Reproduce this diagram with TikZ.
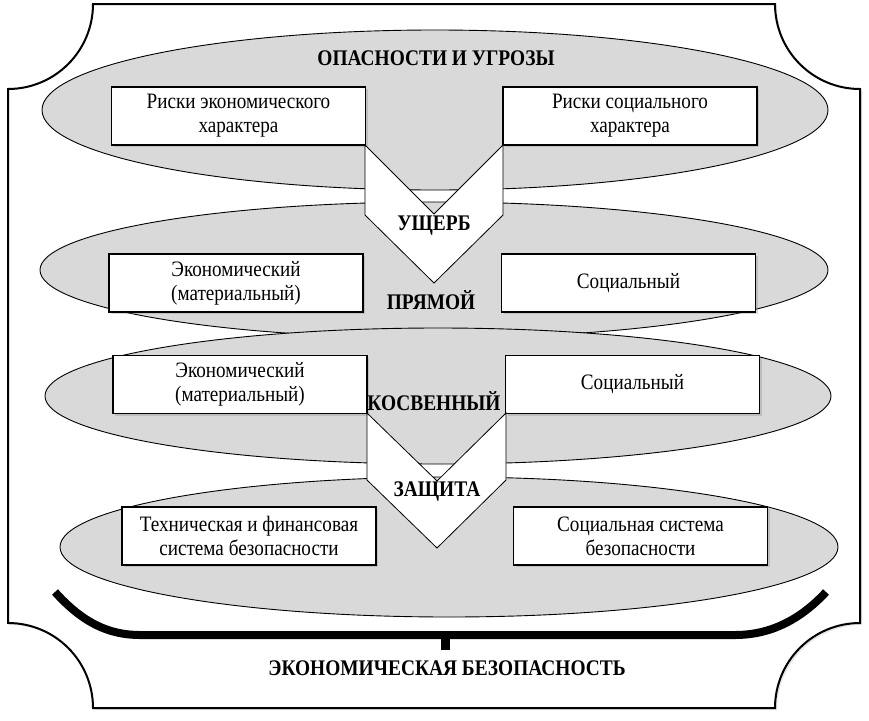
\documentclass[tikz,border=0pt]{standalone}
\usepackage{fontspec}
\setmainfont{Liberation Serif}[FakeStretch=0.87]
\usetikzlibrary{shapes.geometric,shadows}
\definecolor{ellgray}{RGB}{217,217,217}
\begin{document}
\begin{tikzpicture}[x=1pt,y=-1pt,
  oval/.style={ellipse,draw=black,fill=ellgray,line width=0.9pt,inner sep=0pt},
  riskbox/.style={draw=black,fill=white,line width=1.3pt,minimum width=254pt,minimum height=58pt,
    inner sep=0pt,align=center,font=\fontsize{22}{24}\selectfont,
    drop shadow={opacity=0.3,shadow xshift=2pt,shadow yshift=-2pt}},
  chev/.style={draw=black,fill=white,line width=0.8pt,line join=miter},
  lbl/.style={font=\fontsize{22.3}{24}\selectfont\bfseries,inner sep=0pt},
  framestyle/.style={draw=black,fill=white,line width=2pt,
    drop shadow={opacity=0.2,shadow xshift=2pt,shadow yshift=-2pt}}
]
\useasboundingbox (0,0) rectangle (869,720);
% frame
\path[framestyle] (93,4) -- (775,4) .. controls (775,51) and (813,89) .. (860,89)
  -- (860,623) .. controls (813,623) and (775,661) .. (775,708)
  -- (93,708) .. controls (93,661) and (55,623) .. (8,623)
  -- (8,89) .. controls (55,89) and (93,51) .. (93,4) -- cycle;
% ellipses
\node[oval,minimum width=786pt,minimum height=160pt] (e1) at (435,110) {};
\node[oval,minimum width=788pt,minimum height=136pt] (e2) at (434,270) {};
\node[oval,minimum width=786pt,minimum height=136pt] (e3) at (438,396) {};
\node[oval,minimum width=778pt,minimum height=140pt] (e4) at (449,547) {};
% boxes
\node[riskbox] (b1) at (238.5,116) {Риски экономического\\характера};
\node[riskbox] (b2) at (630,116) {Риски социального\\характера};
\node[riskbox] (b3) at (236,283) {Экономический\\(материальный)};
\node[riskbox] (b4) at (628.5,283) {Социальный};
\node[riskbox] (b5) at (240,384.5) {Экономический\\(материальный)};
\node[riskbox] (b6) at (632.5,384.5) {Социальный};
\node[riskbox] (b7) at (249,536) {Техническая и финансовая\\система безопасности};
\node[riskbox] (b8) at (640.5,536) {Социальная система\\безопасности};
% chevrons
\coordinate (c1a) at (365,145); \coordinate (c1n) at (434,214); \coordinate (c1b) at (503,145);
\coordinate (c1c) at (503,215); \coordinate (c1t) at (434,283); \coordinate (c1d) at (365,215);
\draw[chev] (c1a) -- (c1n) -- (c1b) -- (c1c) -- (c1t) -- (c1d) -- cycle;
\coordinate (c2a) at (367,413); \coordinate (c2n) at (437,481); \coordinate (c2b) at (506,413);
\coordinate (c2c) at (506,480); \coordinate (c2t) at (437,548); \coordinate (c2d) at (367,480);
\draw[chev] (c2a) -- (c2n) -- (c2b) -- (c2c) -- (c2t) -- (c2d) -- cycle;
% labels
\node[lbl] (t1) at (436,58) {ОПАСНОСТИ И УГРОЗЫ};
\node[lbl] (t2) at (434,226) {УЩЕРБ};
\node[lbl] (t3) at (431,300) {ПРЯМОЙ};
\node[lbl] (t4) at (434,401) {КОСВЕННЫЙ};
\node[lbl] (t5) at (437,491) {ЗАЩИТА};
\node[lbl] (t6) at (447,668) {ЭКОНОМИЧЕСКАЯ БЕЗОПАСНОСТЬ};
% bracket
\coordinate (brl) at (55,592); \coordinate (brr) at (826,592);
\draw[line width=8pt] (brl) .. controls (82,622) and (108,635) .. (140,635) -- (735,635)
  .. controls (770,635) and (800,620) .. (brr);
\coordinate (st1) at (445.5,635); \coordinate (st2) at (445.5,650);
\draw[line width=9pt] (st1) -- (st2);
\end{tikzpicture}
\end{document}
